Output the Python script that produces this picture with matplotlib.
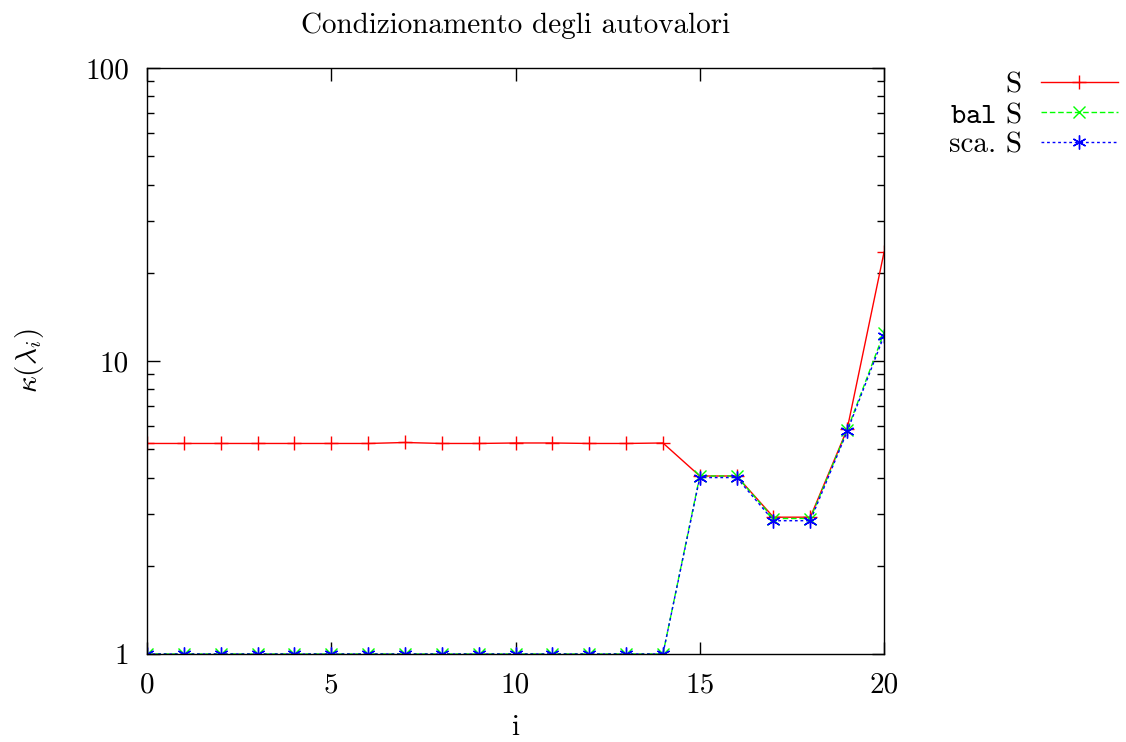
import numpy as np
import matplotlib
matplotlib.use("Agg")
import matplotlib.pyplot as plt

# Computer Modern look
plt.rcParams['font.family'] = 'serif'
plt.rcParams['font.serif'] = ['cmr10', 'DejaVu Serif']
plt.rcParams['mathtext.fontset'] = 'cm'
plt.rcParams['axes.formatter.use_mathtext'] = True

# Indici degli autovalori e numeri di condizionamento
idx = np.arange(21)
cond_S = [5.23, 5.23, 5.23, 5.23, 5.23, 5.23, 5.23, 5.27, 5.23, 5.23, 5.25,
          5.25, 5.23, 5.23, 5.25, 4.05, 4.05, 2.93, 2.93, 5.85, 23.5]
cond_bal = [1, 1, 1, 1, 1, 1, 1, 1, 1, 1, 1,
            1, 1, 1, 1, 4.05, 4.05, 2.9, 2.9, 5.8, 12.5]
cond_sca = [1, 1, 1, 1, 1, 1, 1, 1, 1, 1, 1,
            1, 1, 1, 1, 4.0, 4.0, 2.85, 2.85, 5.75, 12.2]

xticks = [0, 5, 10, 15, 20]
yticks = [1, 10, 100]

FS = 21

fig = plt.figure(figsize=(11.26, 7.42), dpi=100)
ax = fig.add_axes([0.1306, 0.1186, 0.6545, 0.7898])

ax.plot(idx, cond_S, color='#ff0000', lw=1.0, marker='+', ms=10, mew=1.0,
        label='S')
ax.plot(idx, cond_bal, color='#00ff00', lw=1.0, ls=(0, (4, 2)), marker='x',
        ms=9, mew=1.0, label=r'$\mathtt{bal}$ S')
ax.plot(idx, cond_sca, color='#0000ff', lw=1.0, ls=(0, (2, 2)),
        marker=(6, 2, 0), ms=10, mew=1.0, label='sca. S')

ax.set_yscale('log')
ax.set_xlim(0, 20)
ax.set_ylim(1, 100)
ax.set_xticks(xticks)
ax.set_xticklabels([str(t) for t in xticks])
ax.set_yticks(yticks)
ax.set_yticklabels([str(t) for t in yticks])
ax.yaxis.set_minor_locator(matplotlib.ticker.LogLocator(base=10, subs=np.arange(2, 10)))
ax.yaxis.set_minor_formatter(matplotlib.ticker.NullFormatter())

ax.tick_params(which='both', direction='in', top=True, right=True,
               labelsize=FS, width=1.0, pad=13)
ax.tick_params(which='major', length=9)
ax.tick_params(which='minor', length=5)
for s in ax.spines.values():
    s.set_linewidth(1.0)

ax.set_title('Condizionamento degli autovalori', fontsize=FS, pad=25)
ax.set_xlabel('i', fontsize=FS, labelpad=12)
ax.set_ylabel(r'$\kappa(\lambda_i)$', fontsize=FS, labelpad=28)

ax.legend(loc='upper right', bbox_to_anchor=(0.993, 0.903),
          bbox_transform=fig.transFigure, frameon=False, markerfirst=False,
          fontsize=FS, handlelength=2.65, handletextpad=0.65,
          labelspacing=0.12, borderpad=0, borderaxespad=0, numpoints=1)

fig.savefig('out.png', dpi=100)
